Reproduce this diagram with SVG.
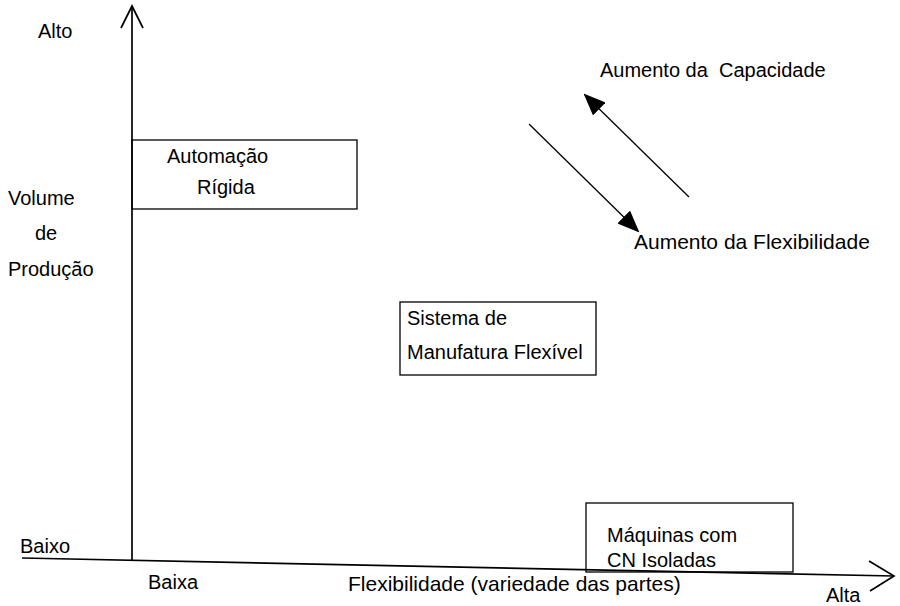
<svg xmlns="http://www.w3.org/2000/svg" width="900" height="606" viewBox="0 0 900 606">
<style>
text{font-family:"Liberation Sans",Arial,sans-serif;font-size:20px;fill:#000}
.box{fill:none;stroke:#000;stroke-width:1.3}
.ax{fill:none;stroke:#000;stroke-width:1.7}
.ln{fill:none;stroke:#000;stroke-width:1.3}
</style>
<defs>
<marker id="ah" markerWidth="22" markerHeight="18" refX="20" refY="9" orient="auto" markerUnits="userSpaceOnUse">
<path d="M0,0 L22,9 L0,18 Z" fill="#000"/>
</marker>
</defs>
<rect width="900" height="606" fill="#fff"/>
<g id="axes">
<path class="ax" d="M132,560 L132,6"/>
<path class="ax" d="M121,28 L132,6 L143,28"/>
<path class="ax" d="M22,558 L894,576"/>
<path class="ax" d="M869,561 L894,576 L870,591"/>
</g>
<g id="axis-labels">
<text x="38" y="38">Alto</text>
<text x="20" y="553">Baixo</text>
<text x="8" y="205">Volume</text>
<text x="35" y="240">de</text>
<text x="8" y="276">Produção</text>
<text x="148" y="589">Baixa</text>
<text x="348" y="591" style="font-size:21px">Flexibilidade (variedade das partes)</text>
<text x="826" y="602">Alta</text>
</g>
<g id="automacao">
<rect class="box" x="132" y="140" width="225" height="69"/>
<text x="167" y="163">Automação</text>
<text x="197" y="194">Rígida</text>
</g>
<g id="fms">
<rect class="box" x="400" y="302" width="196" height="73"/>
<text x="407" y="325">Sistema de</text>
<text x="407" y="359">Manufatura Flexível</text>
</g>
<g id="cn">
<rect class="box" x="586" y="503" width="207" height="69"/>
<text x="607" y="542">Máquinas com</text>
<text x="607" y="567">CN Isoladas</text>
</g>
<g id="connectors">
<line class="ln" x1="689" y1="197" x2="585" y2="95" marker-end="url(#ah)"/>
<line class="ln" x1="529" y1="124" x2="638" y2="231" marker-end="url(#ah)"/>
</g>
<g id="trend-labels">
<text x="600" y="77" xml:space="preserve">Aumento da  Capacidade</text>
<text x="634" y="249" style="font-size:21px">Aumento da Flexibilidade</text>
</g>
</svg>
